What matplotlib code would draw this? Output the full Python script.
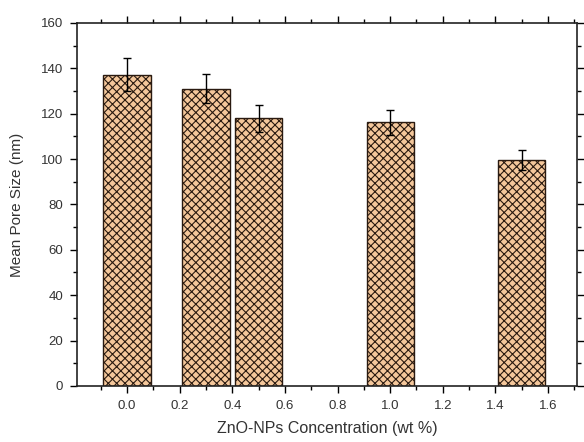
import numpy as np
import matplotlib.pyplot as plt
from matplotlib.ticker import MultipleLocator

plt.rcParams['font.family'] = ['Liberation Sans', 'DejaVu Sans']
plt.rcParams['hatch.linewidth'] = 0.8
plt.rcParams['hatch.color'] = '#2a1a10'

# data
conc = [0.0, 0.3, 0.5, 1.0, 1.5]
pore_size = [137.2, 131.0, 118.0, 116.3, 99.6]
pore_err = [7.2, 6.5, 6.0, 5.5, 4.6]

fig = plt.figure(figsize=(5.84, 4.42), dpi=100)
ax = fig.add_axes([0.132, 0.127, 0.856, 0.821])

ax.bar(conc, pore_size, width=0.18, color='#f4c79b', edgecolor='#2a1a10',
       linewidth=1.0, hatch='xxxx', zorder=2)
ax.errorbar(conc, pore_size, yerr=pore_err, fmt='none', ecolor='black',
            elinewidth=1.0, capsize=3, capthick=1.0, zorder=3)

ax.set_xlim(-0.19, 1.71)
ax.set_ylim(0, 160)
ax.xaxis.set_major_locator(MultipleLocator(0.2))
ax.xaxis.set_minor_locator(MultipleLocator(0.1))
ax.yaxis.set_major_locator(MultipleLocator(20))
ax.yaxis.set_minor_locator(MultipleLocator(10))
ax.xaxis.set_major_formatter(plt.FuncFormatter(lambda v, p: '%.1f' % v))

ax.tick_params(which='both', direction='out', top=True, right=True,
               labelcolor='#333333', labelsize=9.5, width=1.0)
ax.tick_params(which='major', length=5, pad=5)
ax.tick_params(which='minor', length=3)
for s in ax.spines.values():
    s.set_linewidth(1.2)
    s.set_color('#222222')

ax.set_xlabel('ZnO-NPs Concentration (wt %)', fontsize=11.5, color='#333333',
              labelpad=7)
ax.set_ylabel('Mean Pore Size (nm)', fontsize=11, color='#333333', labelpad=12)

plt.savefig('out.png', dpi=100)
